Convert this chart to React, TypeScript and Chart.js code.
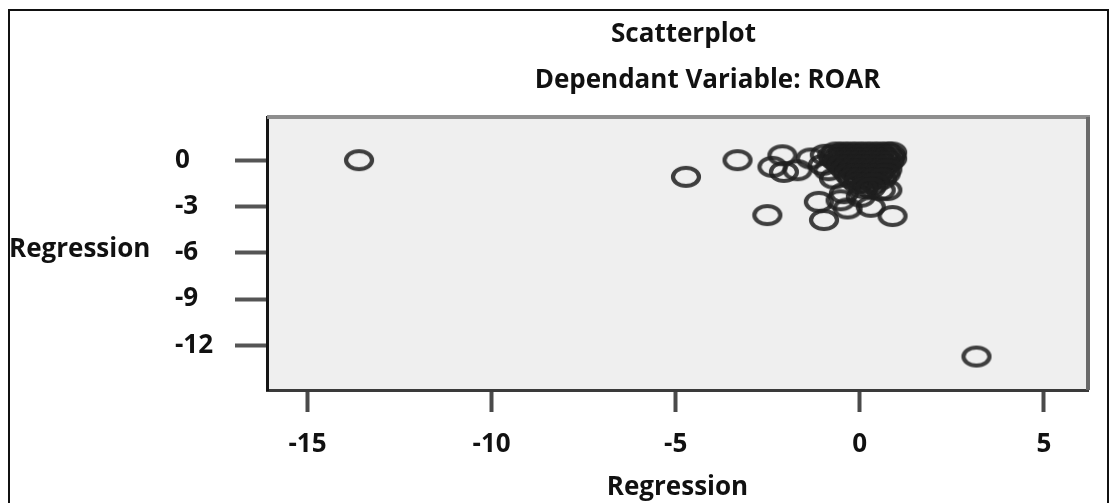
import React, { useEffect, useRef } from 'react';
import { Chart, registerables } from 'chart.js';

Chart.register(...registerables);

const chartTitle = 'Scatterplot';
const chartSubtitle = 'Dependant Variable: ROAR';
const xAxisTitle = 'Regression';
const yAxisTitle = 'Regression';

const xTickValues = [-15, -10, -5, 0, 5];
const yTickValues = [0, -3, -6, -9, -12];

// isolated points
const outlierX = [-13.6, -4.72, -3.32, -2.51, 3.17];
const outlierY = [0.0, -1.08, 0.0, -3.56, -12.73];

// points around the main cluster
const nearX = [-2.1, -2.37, -2.06, -1.69, -1.33, -1.11, -0.97, -0.33, 0.3, 0.89, 0.75, 0.03, -0.52, -0.95, -1.0, -0.85, -0.7, 0.57, -0.43];
const nearY = [0.32, -0.43, -0.76, -0.65, 0.11, -2.7, -3.88, -3.13, -3.02, -3.62, -1.94, -2.37, -2.6, 0.35, -0.3, -0.65, -1.19, -1.94, -2.14];

// dense cluster near the origin
const clusterX = [
  -0.65, -0.45, -0.25, -0.05, 0.15, 0.35, 0.55, 0.75, 0.88,
  -0.75, -0.55, -0.35, -0.15, 0.05, 0.25, 0.45, 0.65, 0.85,
  -0.7, -0.5, -0.3, -0.1, 0.1, 0.3, 0.5, 0.7, 0.88,
  -0.6, -0.4, -0.2, 0.0, 0.2, 0.4, 0.6, 0.8,
  -0.5, -0.3, -0.1, 0.1, 0.3, 0.5, 0.7,
  -0.4, -0.2, 0.0, 0.2, 0.4, 0.6, 0.75,
  -0.3, -0.1, 0.1, 0.3, 0.5, 0.7,
  -0.2, 0.0, 0.2, 0.4, 0.6,
  -0.05, 0.2, 0.4,
  0.1, 0.3,
];
const clusterY = [
  0.5, 0.5, 0.5, 0.5, 0.5, 0.5, 0.5, 0.5, 0.5,
  0.3, 0.3, 0.3, 0.3, 0.3, 0.3, 0.3, 0.3, 0.3,
  0.1, 0.1, 0.1, 0.1, 0.1, 0.1, 0.1, 0.1, 0.1,
  -0.1, -0.1, -0.1, -0.1, -0.1, -0.1, -0.1, -0.1,
  -0.35, -0.35, -0.35, -0.35, -0.35, -0.35, -0.35,
  -0.6, -0.6, -0.6, -0.6, -0.6, -0.6, -0.6,
  -0.9, -0.9, -0.9, -0.9, -0.9, -0.9,
  -1.2, -1.2, -1.2, -1.2, -1.2,
  -1.5, -1.5, -1.5,
  -1.8, -1.8,
];

const FONT = '"Open Sans", "Noto Sans", sans-serif';

export default function App() {
  const canvasRef = useRef<HTMLCanvasElement | null>(null);

  useEffect(() => {
    if (!canvasRef.current) return;

    const marker = document.createElement('canvas');
    marker.width = 32;
    marker.height = 24;
    const mc = marker.getContext('2d')!;
    mc.beginPath();
    mc.ellipse(16, 12, 13, 9, 0, 0, Math.PI * 2);
    mc.lineWidth = 4.2;
    mc.strokeStyle = 'rgba(30,30,30,0.85)';
    mc.stroke();

    const xs = [...outlierX, ...nearX, ...clusterX];
    const ys = [...outlierY, ...nearY, ...clusterY];
    const data = xs.map((x, i) => ({ x, y: ys[i] }));

    const framePlugin = {
      id: 'spssFrame',
      beforeDraw(chart: any) {
        const { ctx, chartArea: a } = chart;
        ctx.save();
        ctx.fillStyle = '#efefef';
        ctx.fillRect(a.left, a.top, a.right - a.left, a.bottom - a.top);
        ctx.restore();
      },
      afterDraw(chart: any) {
        const { ctx, chartArea: a } = chart;
        ctx.save();
        ctx.lineWidth = 4;
        ctx.strokeStyle = '#8e8e8e';
        ctx.beginPath();
        ctx.moveTo(a.left, a.top);
        ctx.lineTo(a.right + 2, a.top);
        ctx.stroke();
        ctx.strokeStyle = '#6a6a6a';
        ctx.beginPath();
        ctx.moveTo(a.right, a.top);
        ctx.lineTo(a.right, a.bottom);
        ctx.stroke();

        const cx = (a.left + a.right) / 2;
        ctx.fillStyle = '#111';
        ctx.textAlign = 'center';
        ctx.textBaseline = 'middle';
        ctx.font = `bold 26px ${FONT}`;
        ctx.fillText(chartTitle, cx + 6, a.top - 82);
        ctx.fillText(chartSubtitle, cx + 30, a.top - 36);
        ctx.textAlign = 'left';
        ctx.fillText(yAxisTitle, 9, (a.top + a.bottom) / 2 - 4);
        ctx.restore();
      },
    };

    const tickFont = { family: FONT, size: 26, weight: 'bold' as const };

    const chart = new Chart(canvasRef.current, {
      type: 'scatter',
      data: {
        datasets: [
          {
            data,
            pointStyle: marker,
            pointRadius: 12,
            backgroundColor: 'rgba(0,0,0,0)',
            borderColor: '#222',
          },
        ],
      },
      options: {
        responsive: false,
        animation: false,
        layout: { padding: { left: 175, right: 29, top: 117, bottom: 0 } },
        plugins: {
          legend: { display: false },
          tooltip: { enabled: false },
          title: { display: false },
        },
        scales: {
          x: {
            type: 'linear',
            min: -16.1,
            max: 6.2,
            afterBuildTicks: (s: any) => {
              s.ticks = xTickValues.map((v) => ({ value: v }));
            },
            afterFit: (s: any) => {
              s.height = 113;
            },
            border: { display: true, color: '#3a3a3a', width: 3 },
            grid: {
              display: true,
              drawOnChartArea: false,
              drawTicks: true,
              tickLength: 22,
              tickWidth: 4,
              tickColor: '#4a4a4a',
            },
            ticks: { color: '#111', font: tickFont, padding: 17, maxRotation: 0, autoSkip: false },
            title: {
              display: true,
              text: xAxisTitle,
              color: '#111',
              font: tickFont,
              padding: { top: 0, bottom: 0 },
            },
          },
          y: {
            type: 'linear',
            min: -14.9,
            max: 2.8,
            afterBuildTicks: (s: any) => {
              s.ticks = yTickValues.map((v) => ({ value: v }));
            },
            afterFit: (s: any) => {
              s.width = 92;
            },
            border: { display: true, color: '#151515', width: 3 },
            grid: {
              display: true,
              drawOnChartArea: false,
              drawTicks: true,
              tickLength: 32,
              tickWidth: 4,
              tickColor: '#555',
            },
            ticks: { color: '#111', font: tickFont, padding: 6, crossAlign: 'far', autoSkip: false },
          },
        },
      },
      plugins: [framePlugin],
    });

    return () => chart.destroy();
  }, []);

  return (
    <div style={{ position: 'fixed', left: 0, top: 0, width: 1117, height: 503, background: '#fff', overflow: 'hidden' }}>
      <div
        style={{
          position: 'absolute',
          left: 8,
          top: 9,
          width: 1101,
          height: 600,
          border: '2px solid #111',
          boxSizing: 'border-box',
        }}
      />
      <canvas
        ref={canvasRef}
        width={1117}
        height={503}
        style={{ position: 'absolute', left: 0, top: 0, display: 'block' }}
      />
    </div>
  );
}
